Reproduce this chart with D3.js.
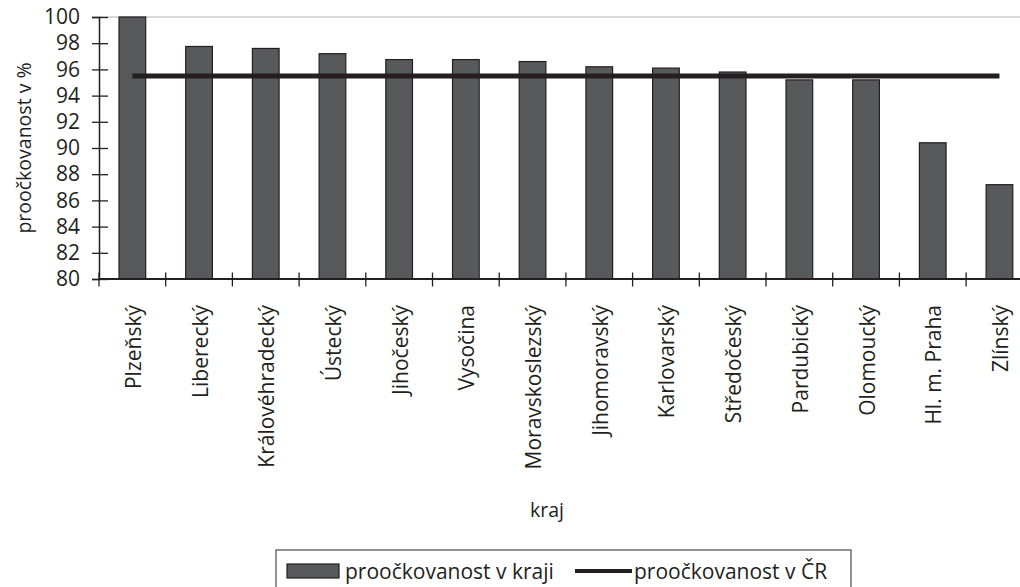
<!DOCTYPE html>
<html><head><meta charset="utf-8">
<script src="https://cdn.jsdelivr.net/npm/d3@7"></script>
<style>body{margin:0;background:#fff;overflow:hidden}svg{display:block}text{font-family:"Open Sans",sans-serif;fill:#231f20}</style>
</head><body>
<script>
const categories = ["Plzeňský","Liberecký","Královéhradecký","Ústecký","Jihočeský","Vysočina","Moravskoslezský","Jihomoravský","Karlovarský","Středočeský","Pardubický","Olomoucký","Hl. m. Praha","Zlínský"];
const krajValues = [100,97.75,97.6,97.2,96.75,96.75,96.6,96.2,96.1,95.8,95.2,95.2,90.4,87.2];
const crValues = [95.5,95.5,95.5,95.5,95.5,95.5,95.5,95.5,95.5,95.5,95.5,95.5,95.5,95.5];
const yTicks = [80,82,84,86,88,90,92,94,96,98,100];
const legendLabels = ["proočkovanost v kraji","proočkovanost v ČR"];
const yTitle = "proočkovanost v %";
const xTitle = "kraj";

const W=1020,H=587;
const svg=d3.select("body").append("svg").attr("width",W).attr("height",H);
const x=d3.scaleBand().domain(categories).range([99,99+66.7*categories.length]).paddingInner(0.6).paddingOuter(0.3);
const y=d3.scaleLinear().domain([80,100]).range([279,17]);
const ink="#231f20";

// top gridline
svg.append("line").attr("x1",99).attr("x2",W).attr("y1",y(100)).attr("y2",y(100)).attr("stroke","#b3b3b3").attr("stroke-width",1.2);

// bars
svg.selectAll("rect.bar").data(categories).join("rect").attr("class","bar")
  .attr("x",d=>x(d)).attr("width",x.bandwidth())
  .attr("y",(d,i)=>y(krajValues[i])).attr("height",(d,i)=>y(80)-y(krajValues[i]))
  .attr("fill","#58595b").attr("stroke",ink).attr("stroke-width",1.2);

// CR line
const line=d3.line().x((d,i)=>x(categories[i])+x.bandwidth()/2).y(d=>y(d));
svg.append("path").datum(crValues).attr("d",line).attr("fill","none").attr("stroke",ink).attr("stroke-width",5);

// y axis
const ya=svg.append("g").attr("transform","translate(99,0)").call(d3.axisLeft(y).tickValues(yTicks).tickSize(7).tickPadding(12));
ya.select(".domain").attr("stroke",ink).attr("stroke-width",1.5);
ya.selectAll(".tick line").attr("x1",9).attr("stroke",ink).attr("stroke-width",1.3);
ya.selectAll(".tick text").style("font-size","21px").style("font-family","'Open Sans',sans-serif").attr("fill",ink);

// x axis
const step=x.step();
svg.append("line").attr("x1",99).attr("x2",W).attr("y1",279).attr("y2",279).attr("stroke",ink).attr("stroke-width",1.8);
const bounds=d3.range(categories.length+1).map(i=>x.range()[0]+i*step);
svg.selectAll("line.xt").data(bounds).join("line").attr("class","xt")
  .attr("x1",d=>d).attr("x2",d=>d).attr("y1",272.5).attr("y2",286.5).attr("stroke",ink).attr("stroke-width",1.3);
svg.selectAll("text.xl").data(categories).join("text").attr("class","xl")
  .attr("transform",d=>`translate(${x(d)+x.bandwidth()/2+8.5},305) rotate(-90)`)
  .attr("text-anchor","end").style("font-size","21px").text(d=>d);

// titles
svg.append("text").attr("transform","translate(31,148) rotate(-90)").attr("text-anchor","middle").style("font-size","19.5px").text(yTitle);
svg.append("text").attr("x",547).attr("y",517).attr("text-anchor","middle").style("font-size","19.5px").text(xTitle);

// legend
svg.append("rect").attr("x",276).attr("y",550).attr("width",575).attr("height",60).attr("fill","none").attr("stroke","#58595b").attr("stroke-width",1.3);
svg.append("rect").attr("x",287).attr("y",564).attr("width",52).attr("height",14).attr("fill","#58595b").attr("stroke",ink).attr("stroke-width",1.2);
svg.append("text").attr("x",345).attr("y",579).style("font-size","21px").text(legendLabels[0]);
svg.append("line").attr("x1",575).attr("x2",632).attr("y1",571).attr("y2",571).attr("stroke",ink).attr("stroke-width",4);
svg.append("text").attr("x",634).attr("y",579).style("font-size","21px").text(legendLabels[1]);
</script>
</body></html>
